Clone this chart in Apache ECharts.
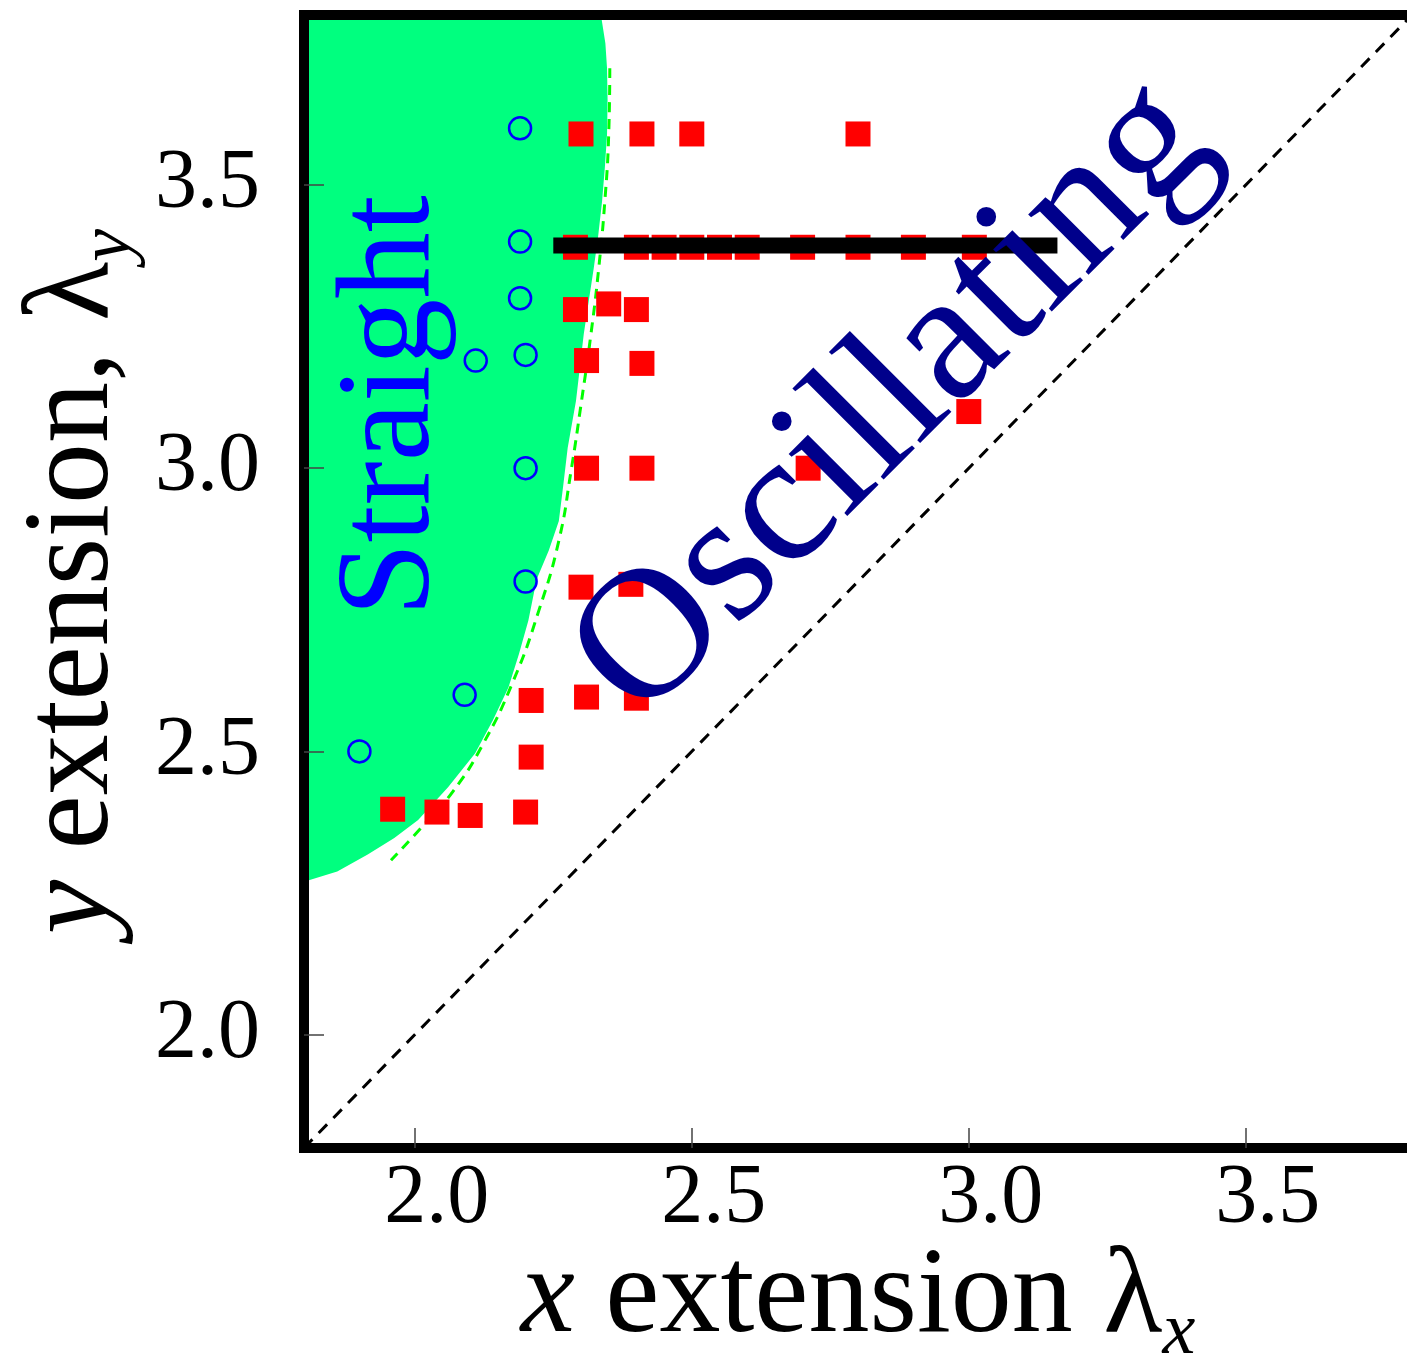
<!DOCTYPE html>
<html>
<head>
<meta charset="utf-8">
<script src="https://cdn.jsdelivr.net/npm/echarts@6/dist/echarts.min.js"></script>
<style>
  html, body { margin: 0; padding: 0; background: #fff; }
  #chart { width: 1407px; height: 1353px; }
</style>
</head>
<body>
<div id="chart"></div>
<script>
// tick values (both axes)
const xTicks = [2.0, 2.5, 3.0, 3.5];
const yTicks = [2.0, 2.5, 3.0, 3.5];

// straight (open circles)
const straightPts = [
  [2.19, 3.6], [2.19, 3.4], [2.19, 3.3], [2.2, 3.2], [2.11, 3.19],
  [2.2, 3.0], [2.2, 2.8], [2.09, 2.6], [1.9, 2.5]
];

// oscillating (red squares)
const oscPts = [
  [2.3, 3.59], [2.41, 3.59], [2.5, 3.59], [2.8, 3.59],
  [2.29, 3.39], [2.4, 3.39], [2.45, 3.39], [2.5, 3.39], [2.55, 3.39],
  [2.6, 3.39], [2.7, 3.39], [2.8, 3.39], [2.9, 3.39], [3.01, 3.39],
  [2.29, 3.28], [2.35, 3.29], [2.4, 3.28],
  [2.31, 3.19], [2.41, 3.185],
  [3.0, 3.1],
  [2.31, 3.0], [2.41, 3.0], [2.71, 3.0],
  [2.3, 2.79], [2.39, 2.795],
  [2.21, 2.59], [2.31, 2.596], [2.4, 2.594],
  [2.21, 2.49],
  [1.96, 2.398], [2.04, 2.393], [2.1, 2.387], [2.2, 2.393]
];

// boundary of the straight region (filled)
const straightRegion = [
  [1.8, 3.8], [2.336, 3.8], [2.344, 3.75], [2.347, 3.706], [2.348, 3.65],
  [2.347, 3.589], [2.343, 3.53], [2.338, 3.471], [2.331, 3.41],
  [2.323, 3.353], [2.314, 3.295], [2.305, 3.237], [2.298, 3.178],
  [2.291, 3.119], [2.276, 3.036], [2.268, 2.97], [2.26, 2.907],
  [2.242, 2.855], [2.22, 2.804], [2.205, 2.731], [2.188, 2.672],
  [2.169, 2.613], [2.141, 2.555], [2.109, 2.497], [2.06, 2.437],
  [2.006, 2.379], [1.963, 2.347], [1.915, 2.318], [1.86, 2.288], [1.8, 2.27]
];

// fitted boundary (green dashed)
const boundaryFit = [
  [2.352, 3.706], [2.35, 3.589], [2.343, 3.471], [2.332, 3.353],
  [2.318, 3.237], [2.301, 3.119], [2.282, 2.995], [2.26, 2.872],
  [2.224, 2.749], [2.178, 2.625], [2.122, 2.511], [2.07, 2.431],
  [2.015, 2.369], [1.957, 2.308]
];

// thick black segment and the diagonal
const holdLine = [[2.25, 3.393], [3.16, 3.393]];
const diagonal = [[1.8, 1.8], [3.8, 3.8]];

const serif = '"Liberation Serif", "Times New Roman", serif';

const chart = echarts.init(document.getElementById('chart'));

const axisCommon = {
  type: 'value',
  min: 1.8,
  max: 3.8,
  z: 10,
  nameMoveOverlap: false,
  splitLine: { show: false },
  axisLine: { show: false },
  axisTick: {
    inside: true,
    length: 20,
    lineStyle: { color: '#444', width: 1.5 }
  }
};

const nameStyle = {
  fontFamily: serif, fontSize: 122, color: '#000', lineHeight: 144,
  rich: {
    i: { fontFamily: serif, fontSize: 122, fontStyle: 'italic', lineHeight: 144 },
    sub: { fontFamily: serif, fontSize: 74, fontStyle: 'italic', verticalAlign: 'bottom', lineHeight: 144 }
  }
};

chart.setOption({
  animation: false,
  grid: {
    left: 304, right: -5, top: 15, bottom: 205,
    containLabel: false,
    outerBoundsMode: 'none',
    show: true, borderWidth: 10, borderColor: '#000',
    backgroundColor: 'transparent', z: 10
  },
  xAxis: Object.assign({}, axisCommon, {
    axisTick: Object.assign({}, axisCommon.axisTick, { customValues: xTicks }),
    axisLabel: {
      customValues: xTicks,
      formatter: v => v.toFixed(1),
      fontFamily: serif, fontSize: 84, color: '#000',
      margin: 10, padding: [0, 0, 0, 44]
    },
    name: '{i|x} extension λ{sub|x}',
    nameLocation: 'middle',
    nameGap: 79,
    nameTextStyle: nameStyle
  }),
  yAxis: Object.assign({}, axisCommon, {
    axisTick: Object.assign({}, axisCommon.axisTick, { customValues: yTicks }),
    axisLabel: {
      customValues: yTicks,
      formatter: v => v.toFixed(1),
      fontFamily: serif, fontSize: 84, color: '#000',
      margin: 44
    },
    name: '{i|y} extension, λ{sub|y}',
    nameLocation: 'middle',
    nameGap: 157,
    nameTextStyle: nameStyle
  }),
  series: [
    {
      type: 'custom',
      z: 1,
      data: [0],
      renderItem: function (params, api) {
        const pts = straightRegion.map(p => api.coord(p));
        return { type: 'polygon', shape: { points: pts }, style: { fill: '#00ff7f' } };
      }
    },
    {
      type: 'line',
      z: 2,
      data: boundaryFit,
      symbol: 'none',
      smooth: true,
      lineStyle: { color: '#00ff00', width: 3, type: [10, 7] }
    },
    {
      type: 'line',
      z: 2,
      data: diagonal,
      symbol: 'none',
      lineStyle: { color: '#000', width: 3, type: [12, 9] }
    },
    {
      type: 'scatter',
      z: 3,
      data: oscPts,
      symbol: 'rect',
      symbolSize: 25,
      itemStyle: { color: '#ff0000', opacity: 1 }
    },
    {
      type: 'scatter',
      z: 3,
      data: straightPts,
      symbol: 'circle',
      symbolSize: 22,
      itemStyle: { color: 'transparent', borderColor: '#0000ff', borderWidth: 2.5, opacity: 1 }
    },
    {
      type: 'line',
      z: 4,
      data: holdLine,
      symbol: 'none',
      lineStyle: { color: '#000', width: 16, cap: 'butt' }
    }
  ]
});

// region labels, placed from data coordinates
const pStraight = chart.convertToPixel({ gridIndex: 0 }, [1.96, 3.11]);
const pOsc = chart.convertToPixel({ gridIndex: 0 }, [2.865, 3.12]);

chart.setOption({
  graphic: [
    {
      type: 'text', x: pStraight[0], y: pStraight[1], rotation: Math.PI / 2, z: 5,
      style: {
        text: 'Straight', fill: '#0000ff',
        font: '133px ' + serif,
        align: 'center', verticalAlign: 'middle',
        textAlign: 'center', textVerticalAlign: 'middle'
      }
    },
    {
      type: 'text', x: pOsc[0], y: pOsc[1], rotation: Math.PI / 4, z: 5,
      style: {
        text: 'Oscillating', fill: '#00008b',
        font: '186px ' + serif,
        align: 'center', verticalAlign: 'middle',
        textAlign: 'center', textVerticalAlign: 'middle'
      }
    }
  ]
});
</script>
</body>
</html>
